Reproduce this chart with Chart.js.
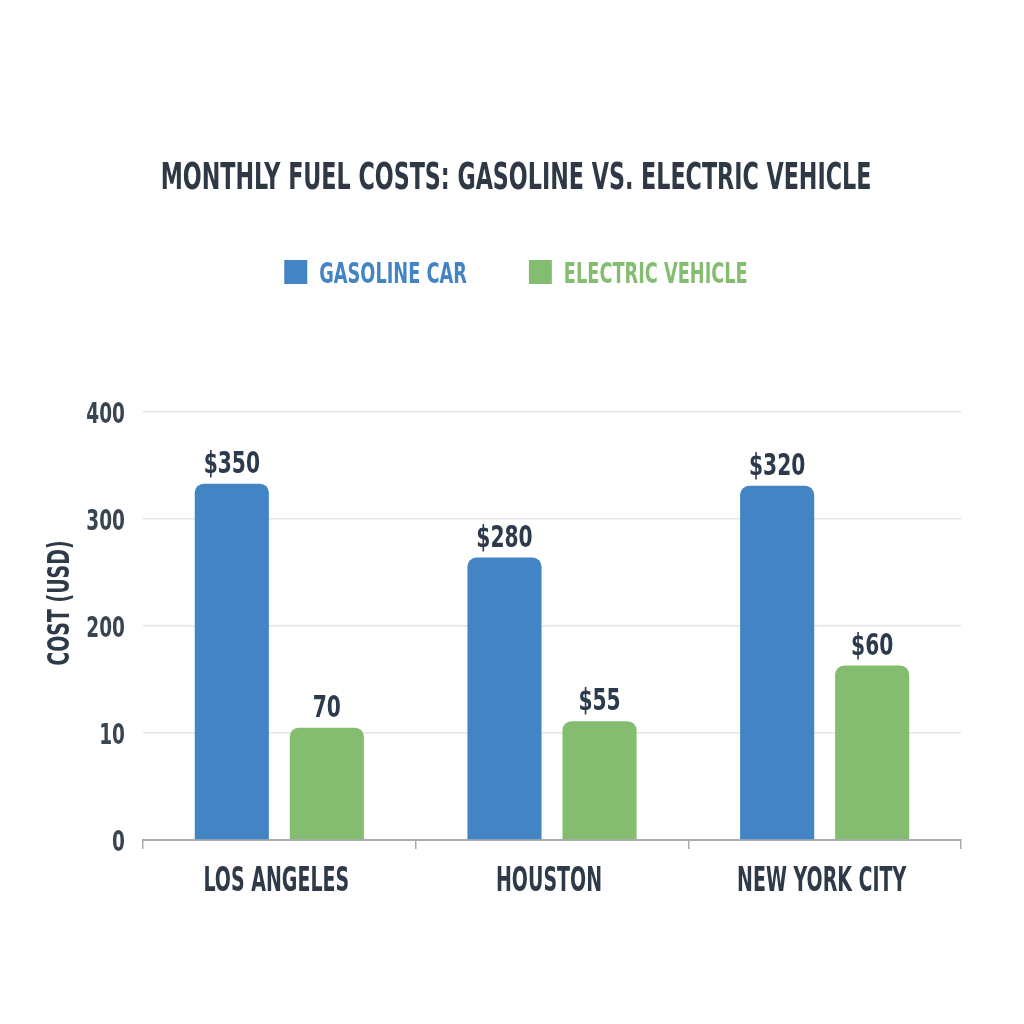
<!DOCTYPE html>
<html>
<head>
<meta charset="utf-8">
<script src="https://cdn.jsdelivr.net/npm/chart.js@4.4.1/dist/chart.umd.min.js"></script>
<style>
  html, body { margin: 0; padding: 0; background: #ffffff; }
  #wrap { width: 1024px; height: 1024px; }
</style>
</head>
<body>
<div id="wrap"><canvas id="myChart" width="1024" height="1024"></canvas></div>
<script>
// data
const chartTitle = 'MONTHLY FUEL COSTS: GASOLINE VS. ELECTRIC VEHICLE';
const yTitle = 'COST (USD)';
const cities = ['LOS ANGELES', 'HOUSTON', 'NEW YORK CITY'];
const seriesNames = ['GASOLINE CAR', 'ELECTRIC VEHICLE'];
const gasolineCost = [333, 264, 331];   // bar heights as drawn
const electricCost = [105, 111, 163];
const gasolineLabels = ['$350', '$280', '$320'];  // printed above the bars
const electricLabels = ['70', '$55', '$60'];
const yTickLabels = ['0', '10', '200', '300', '400'];

const FONT = '"DejaVu Sans Condensed", "Liberation Sans Narrow", sans-serif';
const DARK = '#2e3a48';
const BLUE = '#4384c4';
const GREEN = '#84bd70';

// draw text squeezed sideways (the original face is very narrow)
function narrowText(c, text, x, y, size, sx, align, color) {
    c.save();
    c.font = 'bold ' + size + 'px ' + FONT;
    c.fillStyle = color;
    c.textBaseline = 'alphabetic';
    let w = c.measureText(text).width * sx;
    let left = x;
    if (align === 'center') left = x - w / 2;
    if (align === 'right') left = x - w;
    c.translate(left, y);
    c.scale(sx, 1);
    c.textAlign = 'left';
    c.fillText(text, 0, 0);
    c.restore();
    return w;
}

function textWidth(c, text, size, sx) {
    c.save();
    c.font = 'bold ' + size + 'px ' + FONT;
    let w = c.measureText(text).width * sx;
    c.restore();
    return w;
}

window.onload = function() {
    let ctx = document.getElementById('myChart').getContext('2d');

    const texts = {
        id: 'texts',
        afterDraw(chart) {
            const c = chart.ctx;
            const xs = chart.scales.x;
            const ys = chart.scales.y;

            // title
            narrowText(c, chartTitle, 516, 189, 38, 0.65, 'center', '#2f3945');

            // legend
            const colors = [BLUE, GREEN];
            let widths = seriesNames.map(function(n) { return textWidth(c, n, 29, 0.68); });
            let total = 23 + 12 + widths[0] + 62 + 23 + 12 + widths[1];
            let x = 516 - total / 2;
            seriesNames.forEach(function(n, i) {
                c.fillStyle = colors[i];
                c.fillRect(x, 260, 23, 24);
                narrowText(c, n, x + 35, 283, 29, 0.68, 'left', colors[i]);
                x += 35 + widths[i] + 62;
            });

            // y tick labels
            ys.ticks.forEach(function(t, i) {
                let py = ys.getPixelForValue(t.value);
                narrowText(c, yTickLabels[i], 125, py + 10.5, 29, 0.71, 'right', '#3a4552');
            });

            // y title
            c.save();
            c.translate(69, 603);
            c.rotate(-Math.PI / 2);
            narrowText(c, yTitle, 0, 0, 31, 0.68, 'center', DARK);
            c.restore();

            // category labels
            cities.forEach(function(name, i) {
                narrowText(c, name, xs.getPixelForValue(i) - 3, 891, 33, 0.64, 'center', DARK);
            });

            // values over bars
            const vals = [gasolineLabels, electricLabels];
            chart.data.datasets.forEach(function(ds, i) {
                chart.getDatasetMeta(i).data.forEach(function(bar, j) {
                    narrowText(c, vals[i][j], bar.x, bar.y - 11, 30, 0.75, 'center', '#2c3a4d');
                });
            });
        }
    };

    new Chart(ctx, {
        type: 'bar',
        data: {
            labels: cities,
            datasets: [{
                label: seriesNames[0],
                data: gasolineCost,
                backgroundColor: BLUE,
                borderRadius: { topLeft: 9, topRight: 9 },
                borderSkipped: 'bottom'
            },
            {
                label: seriesNames[1],
                data: electricCost,
                backgroundColor: GREEN,
                borderRadius: { topLeft: 9, topRight: 9 },
                borderSkipped: 'bottom'
            }]
        },
        options: {
            responsive: false,
            animation: false,
            categoryPercentage: 0.697,
            barPercentage: 0.78,
            layout: { padding: { top: 412, left: 143, right: 63, bottom: 184 } },
            plugins: {
                title: { display: false },
                legend: { display: false },
                tooltip: { enabled: false }
            },
            scales: {
                x: {
                    grid: { drawOnChartArea: false, drawTicks: true, tickLength: 9, color: '#a9acb0', lineWidth: 1.5, offset: true },
                    border: { color: '#a9acb0', width: 2 },
                    ticks: { display: false },
                    afterFit: function(s) { s.height = 0; }
                },
                y: {
                    min: 0,
                    max: 400,
                    grid: { color: '#e4e6e9', lineWidth: 1.5, drawTicks: false },
                    border: { display: false },
                    ticks: { stepSize: 100, display: false },
                    afterFit: function(s) { s.width = 0; }
                }
            }
        },
        plugins: [texts]
    });
};
</script>
</body>
</html>
